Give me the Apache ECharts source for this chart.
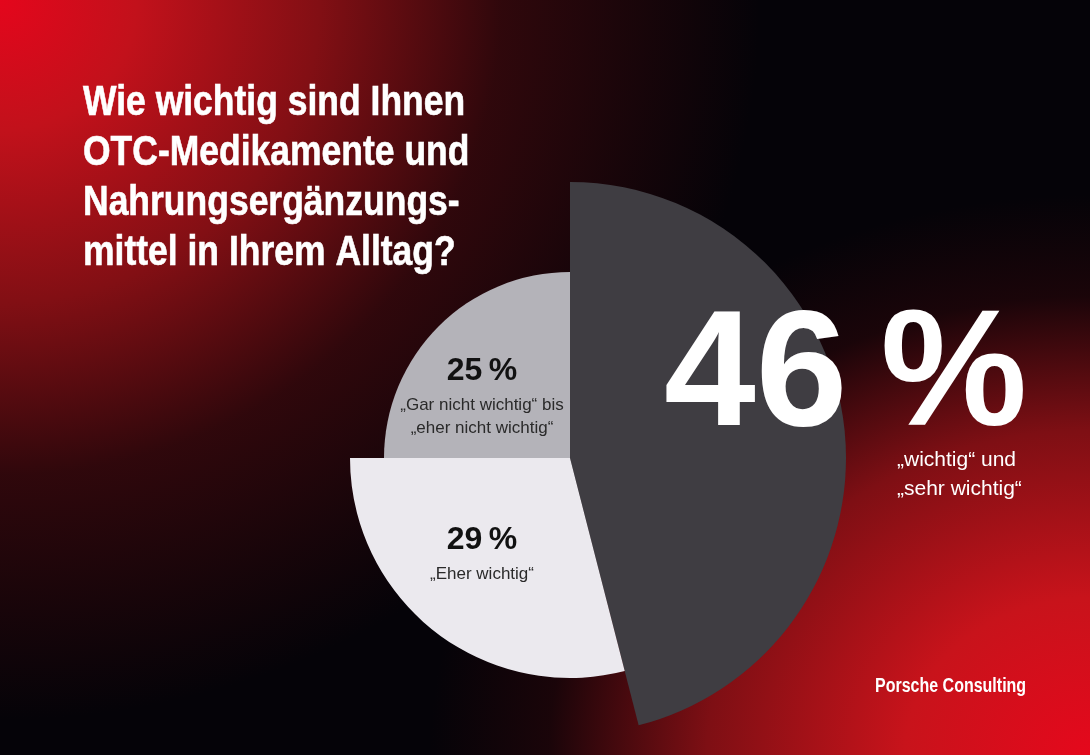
<!DOCTYPE html>
<html>
<head>
<meta charset="utf-8">
<script src="https://cdn.jsdelivr.net/npm/echarts@6/dist/echarts.min.js"></script>
<style>
  html, body { margin: 0; padding: 0; }
  body {
    width: 1090px; height: 755px; overflow: hidden;
    background:
      radial-gradient(ellipse 760px 720px at 0 0, #e4061c 0%, #c2111b 18%, #820f14 42%, rgba(52,8,12,0.9) 66%, rgba(5,3,8,0) 100%),
      radial-gradient(ellipse 660px 560px at 100% 100%, #e5081c 0%, #c8131b 28%, #7e0f14 58%, rgba(40,6,10,0.6) 82%, rgba(5,3,8,0) 100%),
      #050308;
  }
  #chart { width: 1090px; height: 755px; }
</style>
</head>
<body>
<div id="chart"></div>
<script>
// Anteile der Antworten (in %)
const categories = ['wichtig / sehr wichtig', 'Eher wichtig', 'Gar nicht / eher nicht wichtig'];
const values = [46, 29, 25];
const valueLabels = ['46\u2009%', '29\u2009%', '25\u2009%'];
const descLines = [
  ['„wichtig“ und', '„sehr wichtig“'],
  ['„Eher wichtig“'],
  ['„Gar nicht wichtig“ bis', '„eher nicht wichtig“']
];
const titleLines = ['Wie wichtig sind Ihnen', 'OTC-Medikamente und', 'Nahrungsergänzungs-', 'mittel in Ihrem Alltag?'];

const sans = '"Liberation Sans", Arial, sans-serif';
const sliceColors = ['#3f3d42', '#ebe9ee', '#b4b3b9'];
const sliceRadius = [276, 220, 186];
const center = [570, 458];
// Wo die Beschriftung jedes Segments steht
const labelSpot = [
  { x: 664, y: 313, align: 'left' },
  { x: 482, y: 517, align: 'center' },
  { x: 482, y: 348, align: 'center' }
];

const chart = echarts.init(document.getElementById('chart'));

function labelText(i) {
  if (i === 0) {
    return '{big|' + valueLabels[i] + '}\n' + descLines[i].map(function (t) { return '{subw|' + t + '}'; }).join('\n');
  }
  return '{pct|' + valueLabels[i] + '}\n' + descLines[i].map(function (t) { return '{sub|' + t + '}'; }).join('\n');
}

const series = values.map(function (_, i) {
  return {
    type: 'pie',
    silent: true,
    center: center,
    radius: [0, sliceRadius[i]],
    startAngle: 90,
    clockwise: true,
    avoidLabelOverlap: false,
    labelLine: { show: false },
    label: {
      position: 'inside',
      formatter: function () { return labelText(i); },
      rich: {
        big: { fontFamily: sans, fontWeight: 'bold', fontSize: 165, color: '#ffffff', lineHeight: 133, align: 'left' },
        subw: { fontFamily: sans, fontSize: 21, color: '#ffffff', lineHeight: 29, align: 'left', padding: [0, 0, 0, 233] },
        pct: { fontFamily: sans, fontWeight: 'bold', fontSize: 32, color: '#111111', lineHeight: 46, align: 'center' },
        sub: { fontFamily: sans, fontSize: 17, color: '#2a2a2a', lineHeight: 23, align: 'center' }
      }
    },
    labelLayout: function () {
      return { x: labelSpot[i].x, y: labelSpot[i].y, align: labelSpot[i].align, verticalAlign: 'top' };
    },
    data: values.map(function (v, j) {
      return {
        value: v,
        name: categories[j],
        itemStyle: { color: j === i ? sliceColors[i] : 'rgba(0,0,0,0)' },
        label: { show: j === i }
      };
    })
  };
});

chart.setOption({
  backgroundColor: 'transparent',
  animation: false,
  graphic: [
    {
      type: 'text',
      x: 83,
      y: 78,
      scaleX: 0.845,
      style: {
        text: titleLines.join('\n'),
        fontFamily: sans,
        fontWeight: 'bold',
        fontSize: 42,
        lineHeight: 50,
        fill: '#ffffff',
        stroke: '#ffffff',
        lineWidth: 0.6,
        align: 'left',
        verticalAlign: 'top'
      }
    },
    {
      type: 'text',
      x: 875,
      y: 686,
      scaleX: 0.8,
      style: {
        text: 'Porsche Consulting',
        fontFamily: sans,
        fontWeight: 'bold',
        fontSize: 20,
        fill: '#ffffff',
        align: 'left',
        verticalAlign: 'middle'
      }
    }
  ],
  series: series
});
</script>
</body>
</html>
